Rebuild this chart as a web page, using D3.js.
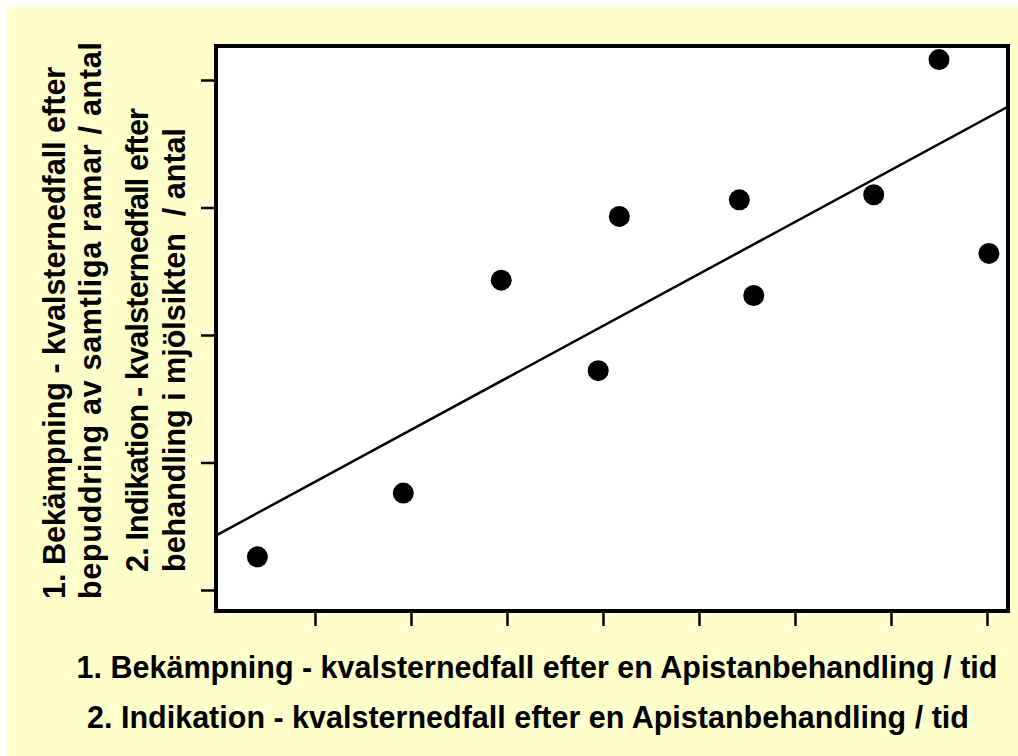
<!DOCTYPE html>
<html>
<head>
<meta charset="utf-8">
<script src="https://cdn.jsdelivr.net/npm/d3@7"></script>
<style>
  body { margin: 0; background: #fff; }
  text { font-family: "Liberation Sans", Arial, sans-serif; font-weight: bold; fill: #000; white-space: pre; }
</style>
</head>
<body>
<svg id="chart" width="1018" height="756"></svg>
<script>
// values (arbitrary units, one tick = 1)
const xValues = [0.4, 1.92, 2.94, 3.95, 4.17, 5.42, 5.57, 6.82, 7.5, 8.02];
const yValues = [0.26, 0.76, 2.43, 1.72, 2.93, 3.06, 2.31, 3.10, 4.16, 2.64];
const trendX = [-0.05, 8.24];
const trendY = [0.42, 3.80];
const xTicks = [1, 2, 3, 4, 5, 6, 7, 8];
const yTicks = [0, 1, 2, 3, 4];
const xLabels = [
  "1. Bekämpning - kvalsternedfall efter en Apistanbehandling / tid",
  "2. Indikation - kvalsternedfall efter en Apistanbehandling / tid"
];
const yLabels = [
  "1. Bekämpning - kvalsternedfall efter",
  "bepuddring av samtliga ramar / antal",
  "2. Indikation - kvalsternedfall efter",
  "behandling i mjölsikten  / antal"
];

const svg = d3.select("#chart");
const frame = { left: 216, top: 46, right: 1008, bottom: 611 };

svg.append("rect")
  .attr("x", 7).attr("y", 7)
  .attr("width", 1011).attr("height", 749)
  .attr("fill", "#ffffcc");

const x = d3.scaleLinear().domain([0, 8]).range([219, 987]);
const y = d3.scaleLinear().domain([0, 4]).range([590, 80]);

svg.append("defs").append("clipPath").attr("id", "plotclip")
  .append("rect")
  .attr("x", frame.left).attr("y", frame.top)
  .attr("width", frame.right - frame.left).attr("height", frame.bottom - frame.top);

svg.append("rect")
  .attr("x", frame.left).attr("y", frame.top)
  .attr("width", frame.right - frame.left).attr("height", frame.bottom - frame.top)
  .attr("fill", "#fff");

// axes: ticks only, no labels
const yAxis = (g) =>
  g.attr("transform", `translate(${frame.left - 2},0)`)
    .call(d3.axisLeft(y).tickValues(yTicks).tickSize(13).tickFormat(""))
    .call((g) => g.select(".domain").remove())
    .call((g) => g.selectAll(".tick line").attr("stroke", "#000").attr("stroke-width", 2.5));

const xAxis = (g) =>
  g.attr("transform", `translate(0,${frame.bottom + 2})`)
    .call(d3.axisBottom(x).tickValues(xTicks).tickSize(13).tickFormat(""))
    .call((g) => g.select(".domain").remove())
    .call((g) => g.selectAll(".tick line").attr("stroke", "#000").attr("stroke-width", 2.5));

svg.append("g").call(yAxis);
svg.append("g").call(xAxis);

// trend line
const line = d3.line().x((d) => x(d[0])).y((d) => y(d[1]));
svg.append("path")
  .datum(d3.zip(trendX, trendY))
  .attr("clip-path", "url(#plotclip)")
  .attr("fill", "none")
  .attr("stroke", "#000")
  .attr("stroke-width", 2.5)
  .attr("d", line);

// points
svg.append("g")
  .selectAll("circle")
  .data(d3.zip(xValues, yValues))
  .join("circle")
  .attr("cx", (d) => x(d[0]))
  .attr("cy", (d) => y(d[1]))
  .attr("r", 10.5)
  .attr("fill", "#000");

// frame border
svg.append("rect")
  .attr("x", frame.left).attr("y", frame.top)
  .attr("width", frame.right - frame.left).attr("height", frame.bottom - frame.top)
  .attr("fill", "none")
  .attr("stroke", "#000")
  .attr("stroke-width", 4);

// x title
svg.selectAll(".xlab")
  .data(xLabels)
  .join("text")
  .attr("class", "xlab")
  .attr("x", (d, i) => (i === 0 ? 537 : 528))
  .attr("y", (d, i) => (i === 0 ? 678 : 728))
  .attr("text-anchor", "middle")
  .attr("font-size", 30.5)
  .text((d) => d);

// y title (rotated)
const yPos = [
  { bx: 65, start: 599, len: null },
  { bx: 101, start: 599, len: 557 },
  { bx: 148, start: 572, len: 464 },
  { bx: 185, start: 572, len: null }
];
svg.selectAll(".ylab")
  .data(yLabels)
  .join("text")
  .attr("class", "ylab")
  .attr("transform", (d, i) => `translate(${yPos[i].bx},${yPos[i].start}) rotate(-90)`)
  .attr("text-anchor", "start")
  .attr("font-size", 30.5)
  .each(function (d, i) {
    if (yPos[i].len) d3.select(this).attr("textLength", yPos[i].len).attr("lengthAdjust", "spacing");
  })
  .text((d) => d);
</script>
</body>
</html>
